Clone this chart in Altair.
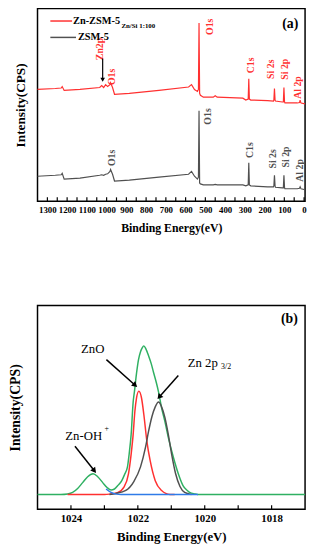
import altair as alt
import pandas as pd

SERIF = "Liberation Serif"
RED = "#ff3030"
GRAY = "#505050"
GREEN = "#2fb062"
BLUE = "#2f7be8"

# ---------------- panel (a): XPS survey ----------------
be_a = [1350, 1260, 1230, 1225, 1215, 1135, 1035, 1025, 1015, 1005, 995, 983, 980, 970,
        960, 885, 735, 585, 570, 555, 540, 535, 532, 529, 525, 510, 460, 450, 440, 310,
        295, 283, 280, 277, 270, 185, 155, 153, 150, 147, 145, 110, 105, 102, 99, 97,
        35, 23, 20, 17, 15, -5]
zn_zsm5 = [116, 117, 117.5, 119, 115, 116, 118, 120, 118, 121, 119, 121, 123, 118,
           111, 112, 115, 118.5, 121, 116, 114, 116, 185, 112, 110, 108, 108, 109.5, 108, 107,
           105, 106, 127, 106, 105, 104.5, 104, 105, 117, 105, 104, 103, 103, 118, 103, 102,
           102, 102.5, 105, 102.5, 102, 101]
zsm5 = [26, 27, 27.5, 29, 23, 24, 27, 27.5, 27, 28, 28.5, 31, 33, 28,
        21, 22, 25, 28, 31, 26, 23, 25, 94, 19, 18, 17, 17, 17.5, 17, 17,
        16, 17, 40, 17, 16, 15, 15, 16, 27, 16, 14.5, 14, 14, 27, 14, 13,
        13, 13.5, 15, 13.5, 13, 12]

ticks_a = [1300, 1250, 1200, 1150, 1100, 1050, 1000, 950, 900, 850, 800, 750, 700,
           650, 600, 550, 500, 450, 400, 350, 300, 250, 200, 150, 100, 50, 0]
labels_a = [1300, 1200, 1100, 1000, 900, 800, 700, 600, 500, 400, 300, 200, 100, 0]

peak_txt_a = ["O1s", "C1s", "Si 2s", "Si 2p", "Al 2p", "Zn2p", "O1s",
              "O1s", "C1s", "Si 2s", "Si 2p", "Al 2p", "O1s"]
peak_x_a = [475, 270, 165, 95, 30, 1035, 970,
            485, 275, 155, 90, 20, 970]
peak_y_a = [181, 141, 137, 137, 118, 158, 129,
            88, 53, 44, 46, 32, 45]

legend_names = ["Zn-ZSM-5", "ZSM-5"]
legend_colors = [RED, GRAY]

# ---------------- panel (b): Zn 2p fit ----------------
green_be = [1025.0, 1024.3, 1024.1, 1023.95, 1023.8, 1023.65, 1023.5, 1023.34, 1023.2, 1023.05,
            1022.92, 1022.8, 1022.7, 1022.6, 1022.48, 1022.4, 1022.31, 1022.26, 1022.2, 1022.14,
            1022.1, 1022.04, 1021.98, 1021.92, 1021.87, 1021.82, 1021.76, 1021.68, 1021.6, 1021.53,
            1021.45, 1021.38, 1021.29, 1021.19, 1021.09, 1020.94, 1020.79, 1020.65, 1020.52, 1020.45,
            1020.3, 1020.21, 1017.0]
green_v = [15, 15, 15.5, 17, 21, 27, 33, 36, 33, 27,
           22, 19.5, 20.5, 24, 29, 35, 43, 56, 76, 109,
           120, 138, 152, 160, 164, 166, 163, 156, 148, 139,
           129, 119, 103, 89, 73, 53, 36, 24, 19, 17,
           15.5, 15, 15]
red_be = [1024.1, 1023.0, 1022.85, 1022.61, 1022.41, 1022.28, 1022.2, 1022.14, 1022.09, 1022.04,
          1021.97, 1021.89, 1021.82, 1021.73, 1021.63, 1021.48, 1021.29, 1021.04, 1020.9]
red_v = [15, 15, 15.3, 16.7, 22.7, 36, 56, 76, 99, 113,
         120, 113, 96, 69, 49, 29, 19, 15, 15]
gray_be = [1022.85, 1022.66, 1022.36, 1022.12, 1021.92, 1021.77, 1021.68, 1021.58, 1021.48, 1021.38,
           1021.29, 1021.19, 1021.09, 1020.99, 1020.87, 1020.74, 1020.6, 1020.4]
gray_v = [15, 16, 19, 28, 43, 63, 79, 94, 104, 109,
          104, 93, 76, 56, 36, 23, 17, 15]
blue_be = [1022.95, 1022.8, 1022.65, 1022.5, 1020.2]
blue_v = [20.5, 17, 15.3, 15, 15]

ticks_b = [1024, 1023, 1022, 1021, 1020, 1019, 1018]
labels_b = [1024, 1022, 1020, 1018]

# ---------------- helpers ----------------
W = 272
HA, HB = 196, 207

xs_a = alt.Scale(domain=[-5, 1350], reverse=True, nice=False, zero=False)
ys_a = alt.Scale(domain=[0, 200], nice=False, zero=False)
xs_b = alt.Scale(domain=[1017, 1025], reverse=True, nice=False, zero=False)
ys_b = alt.Scale(domain=[0, 207], nice=False, zero=False)


def xaxis(vals, fs, lp, tp, tfs):
    return alt.Axis(values=vals, format="d", ticks=False, domain=False, grid=False, labelFlush=False,
                    labelOverlap=False,
                    labelFont=SERIF, labelFontWeight="bold", labelFontSize=fs, labelColor="black",
                    labelPadding=lp, title="Binding Energy(eV)", titleFont=SERIF,
                    titleFontWeight="bold", titleFontSize=tfs, titleColor="black", titlePadding=tp)


def yaxis(tfs, tp):
    return alt.Axis(labels=False, ticks=False, domain=False, grid=False,
                    title="Intensity(CPS)", titleFont=SERIF, titleFontWeight="bold",
                    titleFontSize=tfs, titleColor="black", titlePadding=tp)


AX_XA = xaxis(labels_a, 9, 4, 9, 12)
AX_YA = yaxis(13.5, 10)
AX_XB = xaxis(labels_b, 11, 3.5, 7, 13)
AX_YB = yaxis(14, 15)


def XA():
    return alt.X("be:Q", scale=xs_a, axis=AX_XA)


def YA():
    return alt.Y("v:Q", scale=ys_a, axis=AX_YA)


def XB():
    return alt.X("be:Q", scale=xs_b, axis=AX_XB)


def YB():
    return alt.Y("v:Q", scale=ys_b, axis=AX_YB)


# ---------------- panel (a) layers ----------------
n = len(be_a)
df_a = pd.DataFrame({"be": be_a * 2, "v": zn_zsm5 + zsm5,
                     "c": [RED] * n + [GRAY] * n})
lines_a = alt.Chart(df_a).mark_line(strokeWidth=1.2).encode(
    x=XA(), y=YA(), color=alt.Color("c:N", scale=None))

ticks_a_chart = alt.Chart(pd.DataFrame({"be": ticks_a})).mark_rule(color="black", strokeWidth=1.2).encode(
    x=XA(), y=alt.value(HA), y2=alt.value(HA - 4))

lab_cols = [RED] * 7 + [GRAY] * 6
df_lab_a = pd.DataFrame({"be": peak_x_a, "v": peak_y_a, "t": peak_txt_a, "c": lab_cols})
labels_a_chart = alt.Chart(df_lab_a).mark_text(font=SERIF, fontWeight="bold", fontSize=10,
                                               angle=270, align="center", baseline="middle").encode(
    x=XA(), y=YA(), text="t:N", color=alt.Color("c:N", scale=None))

arrow_a = alt.Chart(pd.DataFrame({"be": [1020], "v": [148], "v2": [126]})).mark_rule(
    color="black", strokeWidth=1.2).encode(x=XA(), y=YA(), y2="v2:Q")
head_a = alt.Chart(pd.DataFrame({"be": [1020], "v": [126], "ang": [180]})).mark_point(
    shape="triangle-up", filled=True, color="black", size=22, opacity=1).encode(
    x=XA(), y=YA(), angle=alt.Angle("ang:Q", scale=None))

leg_lines = alt.Chart(pd.DataFrame({"be": [1285, 1285], "be2": [1175, 1155], "v": [187, 170],
                                    "c": legend_colors})).mark_rule(strokeWidth=1.5).encode(
    x=XA(), x2="be2:Q", y=YA(), color=alt.Color("c:N", scale=None))
leg_text = alt.Chart(pd.DataFrame({"be": [1170, 1145], "v": [187, 170], "t": legend_names})).mark_text(
    font=SERIF, fontWeight="bold", fontSize=10.5, align="left", baseline="middle", color="black").encode(
    x=XA(), y=YA(), text="t:N")
leg_sub = alt.Chart(pd.DataFrame({"be": [925], "v": [182], "t": ["Zn/Si 1:100"]})).mark_text(
    font=SERIF, fontWeight="bold", fontSize=7, align="left", baseline="middle", color="black").encode(
    x=XA(), y=YA(), text="t:N")
tag_a = alt.Chart(pd.DataFrame({"be": [70], "v": [184], "t": ["(a)"]})).mark_text(
    font=SERIF, fontWeight="bold", fontSize=14, align="center", baseline="middle", color="black").encode(
    x=XA(), y=YA(), text="t:N")

panel_a = alt.layer(lines_a, ticks_a_chart, labels_a_chart, arrow_a, head_a,
                    leg_lines, leg_text, leg_sub, tag_a).properties(width=W, height=HA)

# ---------------- panel (b) layers ----------------
df_b = pd.DataFrame({
    "be": green_be + red_be + gray_be + blue_be,
    "v": green_v + red_v + gray_v + blue_v,
    "c": [GREEN] * len(green_be) + [RED] * len(red_be)
         + [GRAY] * len(gray_be) + [BLUE] * len(blue_be),
    "o": [0] * len(green_be) + [2] * len(red_be) + [1] * len(gray_be) + [3] * len(blue_be),
})
lines_b = alt.Chart(df_b).mark_line(strokeWidth=1.5, interpolate="monotone").encode(
    x=XB(), y=YB(), color=alt.Color("c:N", scale=None),
    detail="o:N", order=alt.Order("o:Q"))
ticks_b_chart = alt.Chart(pd.DataFrame({"be": ticks_b})).mark_rule(color="black", strokeWidth=1.2).encode(
    x=XB(), y=alt.value(HB), y2=alt.value(HB - 4))

ann_txt = ["ZnO", "Zn 2p", "Zn-OH"]
ann_x = [1023.35, 1020.06, 1023.62]
ann_y = [163, 149, 74]
ann_b = alt.Chart(pd.DataFrame({"be": ann_x, "v": ann_y, "t": ann_txt})).mark_text(
    font=SERIF, fontSize=13, align="center", baseline="middle", color="black").encode(
    x=XB(), y=YB(), text="t:N")
sup_b = alt.Chart(pd.DataFrame({"be": [1019.36, 1022.93], "v": [145, 81], "t": ["3/2", "+"]})).mark_text(
    font=SERIF, fontSize=8, align="center", baseline="middle", color="black").encode(
    x=XB(), y=YB(), text="t:N")

arr_tail_x = [1022.94, 1020.79, 1023.88]
arr_tail_y = [152, 136, 64]
arr_head_x = [1022.08, 1021.36, 1023.3]
arr_head_y = [126, 114, 39]
arr_ang = [132, 221, 142]
arrows_b = alt.Chart(pd.DataFrame({"be": arr_tail_x, "v": arr_tail_y, "be2": arr_head_x,
                                   "v2": arr_head_y})).mark_rule(color="black", strokeWidth=1.5).encode(
    x=XB(), y=YB(), x2="be2:Q", y2="v2:Q")
heads_b = alt.Chart(pd.DataFrame({"be": arr_head_x, "v": arr_head_y, "ang": arr_ang})).mark_point(
    shape="triangle-up", filled=True, color="black", size=40, opacity=1).encode(
    x=XB(), y=YB(), angle=alt.Angle("ang:Q", scale=None))
tag_b = alt.Chart(pd.DataFrame({"be": [1017.47], "v": [193], "t": ["(b)"]})).mark_text(
    font=SERIF, fontWeight="bold", fontSize=14, align="center", baseline="middle", color="black").encode(
    x=XB(), y=YB(), text="t:N")

panel_b = alt.layer(lines_b, ticks_b_chart, ann_b, sup_b, arrows_b, heads_b, tag_b).properties(
    width=W, height=HB)

chart = alt.vconcat(panel_a, panel_b, spacing=71,
                    padding={"left": 0, "top": -5, "right": 0, "bottom": 0},
                    background="white",
                    autosize=alt.AutoSizeParams(type="pad")
                    ).configure_view(stroke="black", strokeWidth=1.5)

chart.save("out.html", embed_options={"renderer": "svg", "actions": False})
